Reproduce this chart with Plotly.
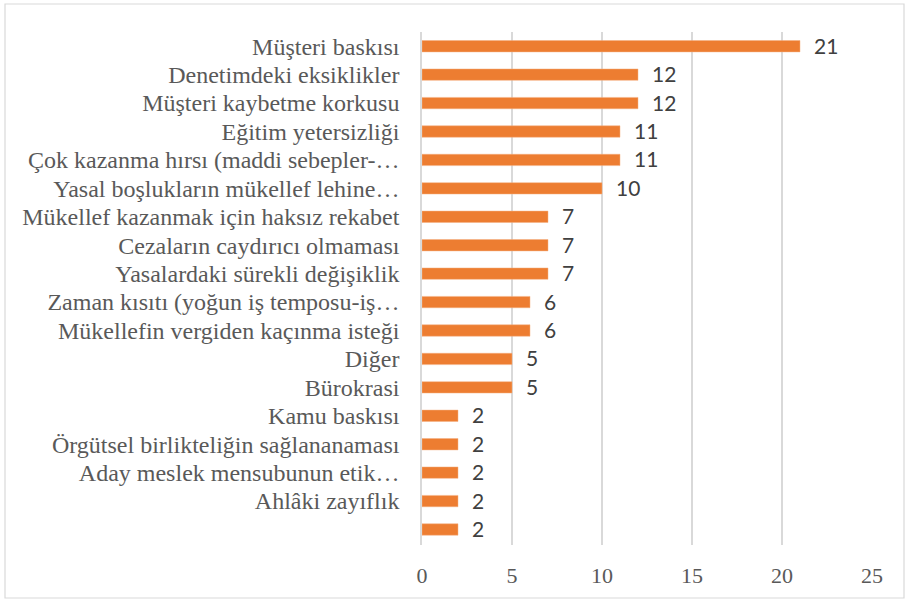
import plotly.graph_objects as go

categories = [
    "Müşteri baskısı",
    "Denetimdeki eksiklikler",
    "Müşteri kaybetme korkusu",
    "Eğitim yetersizliği",
    "Çok kazanma hırsı (maddi sebepler-…",
    "Yasal boşlukların mükellef lehine…",
    "Mükellef kazanmak için haksız rekabet",
    "Cezaların caydırıcı olmaması",
    "Yasalardaki sürekli değişiklik",
    "Zaman kısıtı (yoğun iş temposu-iş…",
    "Mükellefin vergiden kaçınma isteği",
    "Diğer",
    "Bürokrasi",
    "Kamu baskısı",
    "Örgütsel birlikteliğin sağlananaması",
    "Aday meslek mensubunun etik…",
    "Ahlâki zayıflık",
    " ",
]
values = [21, 12, 12, 11, 11, 10, 7, 7, 7, 6, 6, 5, 5, 2, 2, 2, 2, 2]
x_ticks = [0, 5, 10, 15, 20, 25]

SERIF = "Liberation Serif"

fig = go.Figure()
fig.add_trace(go.Bar(
    x=values, y=categories, orientation="h",
    marker=dict(color="#ED7D31", line=dict(color="#F4B183", width=0.5)),
    hoverinfo="skip",
))

for c, v in zip(categories, values):
    fig.add_annotation(x=v, y=c, text=str(v), showarrow=False,
                       xanchor="left", xshift=12, yshift=1,
                       font=dict(family="Lato", size=21, color="#404040"))

L, R, T, B = 422, 37, 32, 58
W, H = 909, 603
pw, ph = W - L - R, H - T - B
fig.add_shape(type="rect", xref="paper", yref="paper",
              x0=(5 - L) / pw, x1=(904 - L) / pw,
              y0=(H - B - 598) / ph, y1=(H - B - 4) / ph,
              line=dict(color="#D9D9D9", width=1.2), fillcolor="rgba(0,0,0,0)", layer="below")

fig.update_layout(
    width=W, height=H,
    margin=dict(l=L, r=R, t=T, b=B),
    paper_bgcolor="white", plot_bgcolor="white",
    bargap=0.6, showlegend=False,
    xaxis=dict(range=[0, 25], tickvals=x_ticks, showgrid=True, gridcolor="#D9D9D9", gridwidth=1.5,
               zeroline=False, showline=False, ticks="", ticklabelstandoff=15,
               tickfont=dict(family=SERIF, size=22, color="#595959")),
    yaxis=dict(autorange="reversed", showgrid=False, zeroline=False, ticks="",
               tickmode="array", tickvals=categories, ticktext=categories,
               showline=True, linecolor="#D9D9D9", linewidth=1.5, ticklabelstandoff=16,
               tickfont=dict(family=SERIF, size=24, color="#595959")),
)

fig.write_html("out.html", config={"displayModeBar": False},
               post_script="document.body.style.margin='0';")
